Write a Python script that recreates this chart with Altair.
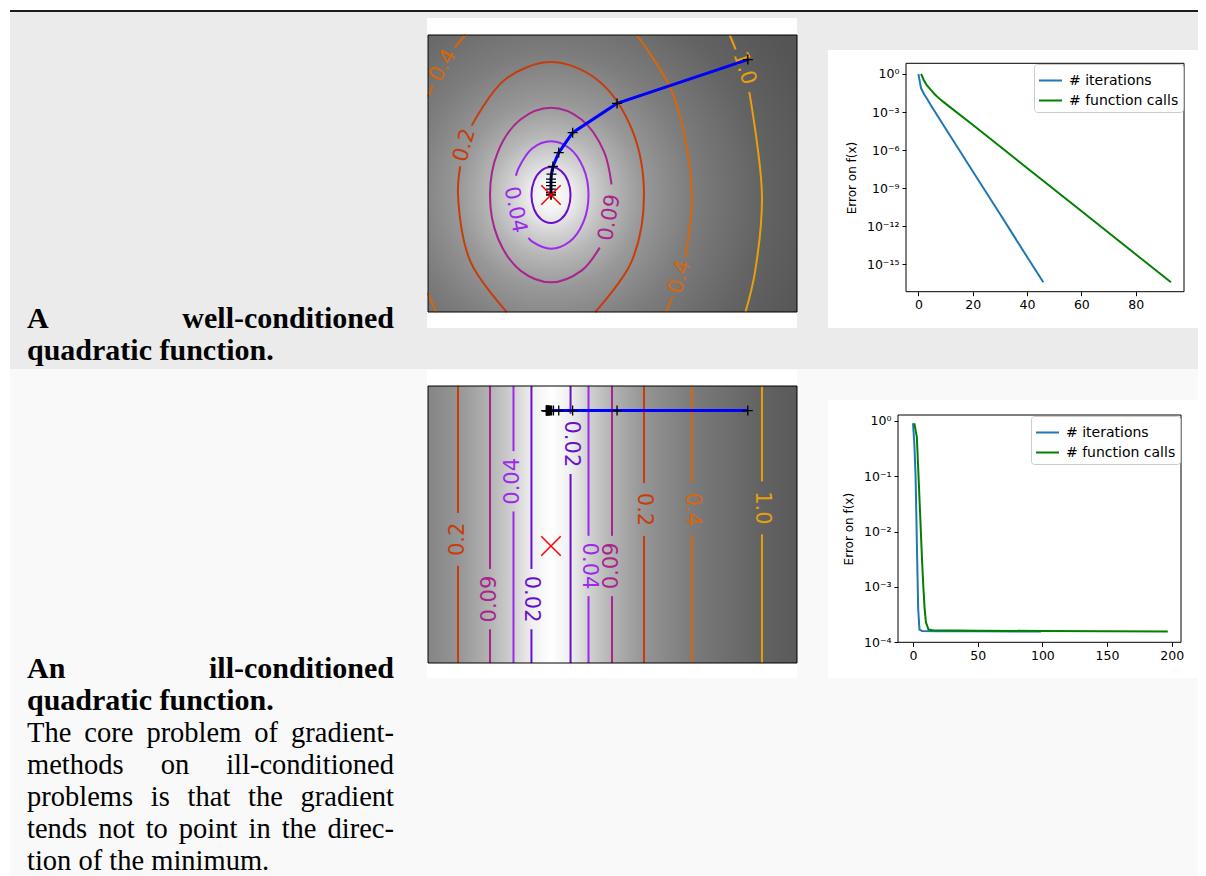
import altair as alt
import pandas as pd

SERIF = "Liberation Serif"
SANS = "DejaVu Sans"

# ---------------- captions ----------------
WELL_TITLE = ["A", "well-conditioned"]
WELL_TITLE_2 = "quadratic function."
ILL_TITLE = ["An", "ill-conditioned"]
ILL_TITLE_2 = "quadratic function."
ILL_BODY = [
    ["The", "core", "problem", "of", "gradient-"],
    ["methods", "on", "ill-conditioned"],
    ["problems", "is", "that", "the", "gradient"],
    ["tends", "not", "to", "point", "in", "the", "direc-"],
    ["tion of the minimum."],
]

# ---------------- contour landscapes (data coordinates) ----------------
X_DOMAIN = [-1.0, 2.0]
Y_DOMAIN = [-0.95, 1.3]
LEVELS = ["0.02", "0.04", "0.09", "0.2", "0.4", "1.0"]
LEVEL_COLORS = ["#6a10cc", "#9b2aea", "#a8248e", "#c83c0c", "#d8660a", "#e8a00a"]

WELL_INNER_X = [0.159, 0.138, 0.080, 0.0, -0.080, -0.138, -0.159, -0.138, -0.080, 0.0, 0.080, 0.138]
WELL_INNER_Y = [0.0, 0.114, 0.197, 0.227, 0.197, 0.114, 0.0, -0.114, -0.197, -0.227, -0.197, -0.114]
WELL_SEGMENTS = [
    ("0.04", [-0.184, -0.153, 0.0, 0.153, 0.264, 0.305, 0.264, 0.153, 0.0, -0.153, -0.264, -0.285],
             [-0.348, -0.378, -0.436, -0.378, -0.218, 0.0, 0.218, 0.378, 0.436, 0.378, 0.218, 0.156]),
    ("0.09", [0.492, 0.430, 0.248, 0.0, -0.248, -0.430, -0.496, -0.430, -0.248, 0.0, 0.248, 0.396],
             [0.086, 0.355, 0.614, 0.709, 0.614, 0.355, 0.0, -0.355, -0.614, -0.709, -0.614, -0.427]),
    ("0.2", [0.360, 0.655, 0.756, 0.655, 0.378, 0.0, -0.378, -0.645],
            [-0.95, -0.540, 0.0, 0.540, 0.935, 1.080, 0.935, 0.564]),
    ("0.2", [-0.738, -0.756, -0.655, -0.360], [0.234, 0.0, -0.540, -0.95]),
    ("0.4", [0.933, 0.961, 0.988], [-0.95, -0.892, -0.828]),
    ("0.4", [1.090, 1.146, 0.992, 0.697], [-0.506, 0.0, 0.819, 1.3]),
    ("0.4", [-0.697, -0.737, -0.782], [1.3, 1.254, 1.197]),
    ("0.4", [-0.961, -1.0], [0.892, 0.799]),
    ("0.4", [-1.0, -0.972, -0.933], [-0.799, -0.868, -0.95]),
    ("1.0", [1.501, 1.453], [1.183, 1.3]),
    ("1.0", [1.612, 1.715, 1.657, 1.581], [0.838, 0.0, -0.634, -0.95]),
]
WELL_LABEL_TEXT = ["0.4", "0.2", "0.04", "0.09", "0.4", "1.0"]
WELL_LABEL_X = [-0.878, -0.701, -0.293, 0.479, 1.047, 1.570]
WELL_LABEL_Y = [1.052, 0.405, -0.120, -0.184, -0.666, 1.030]
WELL_LABEL_ANGLE = [300, 286, 79, 280, 287, 72]
WELL_PATH_X = [1.6, 0.537, 0.176, 0.063, 0.016, 0.004, 0.0, 0.0, 0.0, 0.0, 0.0, 0.0, 0.0]
WELL_PATH_Y = [1.1, 0.744, 0.507, 0.345, 0.232, 0.170, 0.129, 0.103, 0.076, 0.048, 0.022, 0.008, 0.0]

ILL_SEG_LEVEL = ["0.2", "0.2", "0.09", "0.09", "0.04", "0.04", "0.02", "0.02", "0.02", "0.02",
                 "0.04", "0.04", "0.09", "0.09", "0.2", "0.2", "0.4", "0.4", "1.0", "1.0"]
ILL_SEG_X = [-0.756, -0.756, -0.496, -0.496, -0.305, -0.305, -0.159, -0.159, 0.159, 0.159,
             0.305, 0.305, 0.496, 0.496, 0.756, 0.756, 1.146, 1.146, 1.715, 1.715]
ILL_SEG_Y0 = [-0.95, 0.269, -0.95, -0.186, -0.95, 0.771, -0.95, -0.186, -0.95, 1.075,
              -0.95, 0.083, -0.95, 0.083, -0.95, 0.512, -0.95, 0.512, -0.95, 0.525]
ILL_SEG_Y1 = [-0.161, 1.3, -0.676, 1.3, 0.281, 1.3, -0.676, 1.3, 0.585, 1.3,
              -0.407, 1.3, -0.407, 1.3, 0.082, 1.3, 0.082, 1.3, 0.095, 1.3]
ILL_LABEL_TEXT = ["0.2", "0.09", "0.04", "0.02", "0.02", "0.04", "0.09", "0.2", "0.4", "1.0"]
ILL_LABEL_X = [-0.756, -0.496, -0.305, -0.159, 0.159, 0.305, 0.496, 0.756, 1.146, 1.715]
ILL_LABEL_Y = [0.054, -0.431, 0.526, -0.431, 0.830, -0.162, -0.162, 0.297, 0.297, 0.310]
ILL_LABEL_ANGLE = [270, 270, 270, 90, 90, 90, 270, 90, 90, 90]
ILL_PATH_X = [1.6, 0.537, 0.176, 0.063, 0.020, 0.005, -0.004, -0.010, -0.015, -0.020, -0.024,
              -0.027, -0.030, -0.033, -0.035, -0.037, -0.038]
ILL_PATH_Y = [1.1, 1.1, 1.1, 1.1, 1.1, 1.1, 1.1, 1.1, 1.1, 1.1, 1.1, 1.1, 1.1, 1.1, 1.1, 1.1, 1.1]
MIN_X = [0.0]
MIN_Y = [0.0]

# ---------------- convergence curves ----------------
SERIES = ["# iterations", "# function calls"]
SERIES_COLORS = ["#1f77b4", "#008000"]
WELL_ITER_X = [0, 1, 2, 3, 5, 10, 20, 30, 40, 46]
WELL_ITER_ERR = [1.0, 7.4e-2, 2.8e-2, 1.26e-2, 2.5e-3, 5e-5, 2.2e-8, 1e-11, 4e-15, 4e-17]
WELL_CALL_X = [1, 2, 3, 5, 6, 8, 10, 20, 40, 60, 80, 93]
WELL_CALL_ERR = [1.0, 0.32, 0.14, 0.045, 0.025, 0.01, 4.6e-3, 1e-4, 4e-8, 1.6e-11, 6.3e-15, 4e-17]
ILL_ITER_X = [0, 1, 2, 3, 4, 5, 7, 20, 50, 99]
ILL_ITER_ERR = [0.9, 0.4, 0.1, 6e-3, 4e-4, 1.7e-4, 1.6e-4, 1.59e-4, 1.58e-4, 1.57e-4]
ILL_CALL_X = [1, 3, 5, 7, 8, 9, 10, 12, 15, 50, 100, 150, 197]
ILL_CALL_ERR = [0.9, 0.5, 0.04, 3e-3, 1e-3, 4e-4, 2.3e-4, 1.7e-4, 1.65e-4, 1.62e-4, 1.6e-4, 1.58e-4, 1.57e-4]
WELL_N_DOMAIN = [-4.56, 97.8]
WELL_N_TICKS = [0, 20, 40, 60, 80]
WELL_ERR_DOMAIN = [7.2e-18, 6.9]
WELL_ERR_TICKS = [1.0, 1e-3, 1e-6, 1e-9, 1e-12, 1e-15]
ILL_N_DOMAIN = [-11.6, 207.2]
ILL_N_TICKS = [0, 50, 100, 150, 200]
ILL_ERR_DOMAIN = [1e-4, 1.27]
ILL_ERR_TICKS = [1.0, 0.1, 0.01, 1e-3, 1e-4]

# ---------------- styles ----------------
RADIAL_BG = {
    "gradient": "radial", "x1": 0.3333, "y1": 0.5596, "r1": 0,
    "x2": 0.3333, "y2": 0.5596, "r2": 0.75,
    "stops": [
        {"offset": 0.0, "color": "#ffffff"}, {"offset": 0.0687, "color": "#efefef"},
        {"offset": 0.134, "color": "#d4d4d4"}, {"offset": 0.220, "color": "#b6b6b6"},
        {"offset": 0.336, "color": "#989898"}, {"offset": 0.509, "color": "#7d7d7d"},
        {"offset": 0.762, "color": "#636363"}, {"offset": 1.0, "color": "#555555"},
    ],
}
LINEAR_BG = {
    "gradient": "linear", "x1": 0, "y1": 0, "x2": 1, "y2": 0,
    "stops": [
        {"offset": 0.0, "color": "#858585"}, {"offset": 0.0813, "color": "#959595"},
        {"offset": 0.168, "color": "#b3b3b3"}, {"offset": 0.233, "color": "#d2d2d2"},
        {"offset": 0.282, "color": "#efefef"}, {"offset": 0.3333, "color": "#ffffff"},
        {"offset": 0.3848, "color": "#efefef"}, {"offset": 0.4336, "color": "#d2d2d2"},
        {"offset": 0.4986, "color": "#b3b3b3"}, {"offset": 0.5854, "color": "#959595"},
        {"offset": 0.7154, "color": "#7b7b7b"}, {"offset": 0.9051, "color": "#626262"},
        {"offset": 1.0, "color": "#5a5a5a"},
    ],
}
PLUS = "M-1,0L1,0M0,-1L0,1"
XSHAPE = "M-1,-1L1,1M1,-1L-1,1"
SUP = ("replace(replace(replace(replace(replace(replace(replace(replace(replace(replace(replace("
       "'' + round(log(datum.value) / LN10), '-', '\u207b'), '0', '\u2070'), '1', '\u00b9'), "
       "'2', '\u00b2'), '3', '\u00b3'), '4', '\u2074'), '5', '\u2075'), '6', '\u2076'), "
       "'7', '\u2077'), '8', '\u2078'), '9', '\u2079')")
LOG_LABEL = "'10' + " + SUP
AXIS_STYLE = dict(labelFont=SANS, labelFontSize=12.5, labelColor="black", tickColor="black",
                  tickSize=4, tickWidth=1, domain=False, grid=False, labelPadding=3,
                  titleFont=SANS, titleFontSize=12, titleFontWeight="normal",
                  titleColor="black", zindex=1, labelOverlap=False)

# Liberation Serif (Times metrics) advance widths, per 1000 em -- used only to justify lines
REG_W = {" ": 250, "a": 444, "b": 500, "c": 444, "d": 500, "e": 444, "f": 333, "g": 500, "h": 500,
         "i": 278, "l": 278, "m": 778, "n": 500, "o": 500, "p": 500, "r": 333, "s": 389, "t": 278,
         "u": 500, "-": 333, ".": 250, "T": 611}
BOLD_W = {" ": 250, "a": 500, "c": 444, "d": 556, "e": 444, "f": 333, "i": 278, "l": 278, "n": 556,
          "o": 500, "q": 556, "r": 444, "t": 333, "u": 556, "w": 722, "-": 333, ".": 250, "A": 722}
REG_SIZE = 28.5
BOLD_SIZE = 30
LEFT, RIGHT = 17, 384

ONE = pd.DataFrame({"k": [0]})
FULL_W = 1188


def tw(word, bold):
    table = BOLD_W if bold else REG_W
    return sum(table.get(ch, 500) for ch in word) / 1000.0 * (BOLD_SIZE if bold else REG_SIZE)


def justified(words, y, bold):
    if len(words) == 1:
        return [(words[0], LEFT, y, bold)]
    widths = [tw(w, bold) for w in words]
    gap = (RIGHT - LEFT - sum(widths)) / (len(words) - 1)
    out, x = [], LEFT
    for w, wd in zip(words, widths):
        out.append((w, x, y, bold))
        x += wd + gap
    return out


def caption_panel(items, width, height, bg_top, bg_bottom, bg, top_line):
    layers = [alt.Chart(ONE).mark_rect(color=bg).encode(
        x=alt.value(0), x2=alt.value(FULL_W), y=alt.value(bg_top), y2=alt.value(bg_bottom))]
    if top_line:
        layers.append(alt.Chart(ONE).mark_rect(color="#1a1a1a").encode(
            x=alt.value(0), x2=alt.value(FULL_W), y=alt.value(0), y2=alt.value(2)))
    df = pd.DataFrame(items, columns=["text", "px", "py", "bold"])
    for bold, sub in df.groupby("bold"):
        layers.append(alt.Chart(sub).mark_text(
            align="left", baseline="alphabetic", font=SERIF,
            fontSize=BOLD_SIZE if bold else REG_SIZE, fontWeight="bold" if bold else "normal",
            color="#000000",
        ).encode(x=alt.X("px:Q", scale=None, axis=None), y=alt.Y("py:Q", scale=None, axis=None),
                 text="text:N"))
    return alt.layer(*layers).properties(width=width, height=height)


def caption_items(title_words, title2, body, y0):
    items = justified(title_words, y0, True) + justified([title2], y0 + 32, True)
    for li, words in enumerate(body):
        items += justified(words, y0 + 64 + 32 * li, False)
    return items


def contour_panel(height, yrange, box, background, inner=None, segments=None, rules=None,
                  labels=None, path=None):
    xs = alt.Scale(domain=X_DOMAIN, nice=False, zero=False)
    ys = alt.Scale(domain=Y_DOMAIN, nice=False, zero=False, range=yrange)
    col = alt.Color("level:N", scale=alt.Scale(domain=LEVELS, range=LEVEL_COLORS), legend=None)

    def X(f):
        return alt.X(f, scale=xs, axis=None)

    def Y(f):
        return alt.Y(f, scale=ys, axis=None)

    dom = pd.DataFrame({"x0": [X_DOMAIN[0]], "x1": [X_DOMAIN[1]], "y0": [Y_DOMAIN[0]], "y1": [Y_DOMAIN[1]]})
    layers = [
        alt.Chart(ONE).mark_rect(color="white").encode(
            x=alt.value(box[0]), x2=alt.value(box[1]), y=alt.value(box[2]), y2=alt.value(box[3])),
        alt.Chart(dom).mark_rect(color=background).encode(x=X("x0:Q"), x2="x1:Q", y=Y("y0:Q"), y2="y1:Q"),
    ]
    if inner is not None:
        layers.append(alt.Chart(inner).mark_line(interpolate="cardinal-closed", strokeWidth=2).encode(
            x=X("x:Q"), y=Y("y:Q"), order="i:Q", color=col))
    if segments is not None:
        layers.append(alt.Chart(segments).mark_line(interpolate="catmull-rom", strokeWidth=2).encode(
            x=X("x:Q"), y=Y("y:Q"), detail="seg:N", order="i:Q", color=col))
    if rules is not None:
        layers.append(alt.Chart(rules).mark_rule(strokeWidth=2).encode(
            x=X("x:Q"), y=Y("y0:Q"), y2="y1:Q", color=col))
    layers.append(alt.Chart(labels).mark_text(font=SANS, fontSize=21, align="center", baseline="middle").encode(
        x=X("x:Q"), y=Y("y:Q"), text="text:N", angle=alt.Angle("angle:Q", scale=None), color=col))
    layers.append(alt.Chart(path).mark_line(color="#0000ff", strokeWidth=3).encode(
        x=X("x:Q"), y=Y("y:Q"), order="i:Q"))
    layers.append(alt.Chart(path).mark_point(shape=PLUS, size=100, filled=False, color="black",
                                             strokeWidth=1.3, opacity=1).encode(x=X("x:Q"), y=Y("y:Q")))
    layers.append(alt.Chart(pd.DataFrame({"x": MIN_X, "y": MIN_Y})).mark_point(
        shape=XSHAPE, size=380, filled=False, color="#ff0000", strokeWidth=1.5, opacity=1).encode(
        x=X("x:Q"), y=Y("y:Q")))
    layers.append(alt.Chart(dom).mark_rect(fillOpacity=0, stroke="black", strokeWidth=1).encode(
        x=X("x0:Q"), x2="x1:Q", y=Y("y0:Q"), y2="y1:Q"))
    return alt.layer(*layers).properties(width=369, height=height)


def conv_panel(df, width, height, yrange, xdom, xticks, ydom, yticks, box, legend_xy):
    xs = alt.Scale(domain=xdom, nice=False, zero=False)
    ys = alt.Scale(type="log", domain=ydom, nice=False, range=yrange)
    xaxis = alt.Axis(values=xticks, format="d", title=None, labelFlush=False, **AXIS_STYLE)
    yaxis = alt.Axis(values=yticks, labelExpr=LOG_LABEL, title="Error on f(x)", titlePadding=8,
                     **AXIS_STYLE)
    white = alt.Chart(ONE).mark_rect(color="white").encode(
        x=alt.value(box[0]), x2=alt.value(box[1]), y=alt.value(box[2]), y2=alt.value(box[3]))
    lines = alt.Chart(df).mark_line(strokeWidth=2).encode(
        x=alt.X("x:Q", scale=xs, axis=xaxis),
        y=alt.Y("err:Q", scale=ys, axis=yaxis),
        color=alt.Color("series:N", scale=alt.Scale(domain=SERIES, range=SERIES_COLORS),
                        legend=alt.Legend(title=None, orient="none", legendX=legend_xy[0],
                                          legendY=legend_xy[1], fillColor="rgba(255,255,255,0.85)",
                                          strokeColor="#cccccc", cornerRadius=3, padding=4,
                                          labelFont=SANS, labelFontSize=14, labelColor="black",
                                          symbolType="stroke", symbolSize=529, symbolStrokeWidth=2,
                                          rowPadding=-2, labelOffset=6, zindex=1)),
        order="x:Q",
    )
    frame_df = pd.DataFrame({"x": [xdom[0]], "x1": [xdom[1]], "err": [ydom[0]], "y1": [ydom[1]]})
    frame = alt.Chart(frame_df).mark_rect(fillOpacity=0, stroke="black", strokeWidth=1).encode(
        x=alt.X("x:Q", scale=xs, axis=xaxis), x2="x1:Q",
        y=alt.Y("err:Q", scale=ys, axis=yaxis), y2="y1:Q")
    return alt.layer(white, lines, frame).properties(width=width, height=height)


def seg_frame(segments):
    rows = []
    for sid, (lvl, xs, ys) in enumerate(segments):
        for i, (x, y) in enumerate(zip(xs, ys)):
            rows.append({"seg": sid, "i": i, "level": lvl, "x": x, "y": y})
    return pd.DataFrame(rows)


def curves(ix, ie, cx, ce):
    a = pd.DataFrame({"x": ix, "err": ie, "series": SERIES[0]})
    b = pd.DataFrame({"x": cx, "err": ce, "series": SERIES[1]})
    return pd.concat([a, b], ignore_index=True)


well_inner = pd.DataFrame({"i": list(range(len(WELL_INNER_X))), "level": "0.02",
                           "x": WELL_INNER_X, "y": WELL_INNER_Y})
well_labels = pd.DataFrame({"text": WELL_LABEL_TEXT, "x": WELL_LABEL_X, "y": WELL_LABEL_Y,
                            "angle": WELL_LABEL_ANGLE, "level": WELL_LABEL_TEXT})
well_path = pd.DataFrame({"i": list(range(len(WELL_PATH_X))), "x": WELL_PATH_X, "y": WELL_PATH_Y})
ill_rules = pd.DataFrame({"level": ILL_SEG_LEVEL, "x": ILL_SEG_X, "y0": ILL_SEG_Y0, "y1": ILL_SEG_Y1})
ill_labels = pd.DataFrame({"text": ILL_LABEL_TEXT, "x": ILL_LABEL_X, "y": ILL_LABEL_Y,
                           "angle": ILL_LABEL_ANGLE, "level": ILL_LABEL_TEXT})
ill_path = pd.DataFrame({"i": list(range(len(ILL_PATH_X))), "x": ILL_PATH_X, "y": ILL_PATH_Y})

# ---------------- row 1 ----------------
A1 = caption_panel(justified(WELL_TITLE, 318, True) + justified([WELL_TITLE_2], 350, True),
                   309, 359, 2, 359, "#ebebeb", True)
B1 = contour_panel(302, [302, 25], [-1, 369, 8, 318], RADIAL_BG, inner=well_inner,
                   segments=seg_frame(WELL_SEGMENTS), labels=well_labels, path=well_path)
C1 = conv_panel(curves(WELL_ITER_X, WELL_ITER_ERR, WELL_CALL_X, WELL_CALL_ERR), 278, 281.7,
                [281.7, 53.3], WELL_N_DOMAIN, WELL_N_TICKS, WELL_ERR_DOMAIN, WELL_ERR_TICKS,
                [-78, 292, 40, 318], (128, 54))
row1 = alt.hconcat(A1, B1, C1, spacing=109, bounds="flush").resolve_scale(color="independent")

# ---------------- row 2 ----------------
A2 = caption_panel(caption_items(ILL_TITLE, ILL_TITLE_2, ILL_BODY, 309),
                   317, 495, 0, 507, "#f9f9f9", False)
B2 = contour_panel(294, [294, 17], [-1, 369, 1, 309], LINEAR_BG, rules=ill_rules,
                   labels=ill_labels, path=ill_path)
C2 = conv_panel(curves(ILL_ITER_X, ILL_ITER_ERR, ILL_CALL_X, ILL_CALL_ERR), 283, 273.3,
                [273.3, 46], ILL_N_DOMAIN, ILL_N_TICKS, ILL_ERR_DOMAIN, ILL_ERR_TICKS,
                [-70, 300, 31, 309], (133, 47))
row2 = alt.hconcat(A2, B2, C2, spacing=101, bounds="flush").resolve_scale(color="independent")

chart = alt.vconcat(row1, row2, spacing=0).resolve_scale(color="independent").properties(
    padding={"left": 2, "top": 2, "right": 0, "bottom": 0}, background="white"
).configure_view(strokeWidth=0)

chart.save("out.html", embed_options={"renderer": "svg", "actions": False})
